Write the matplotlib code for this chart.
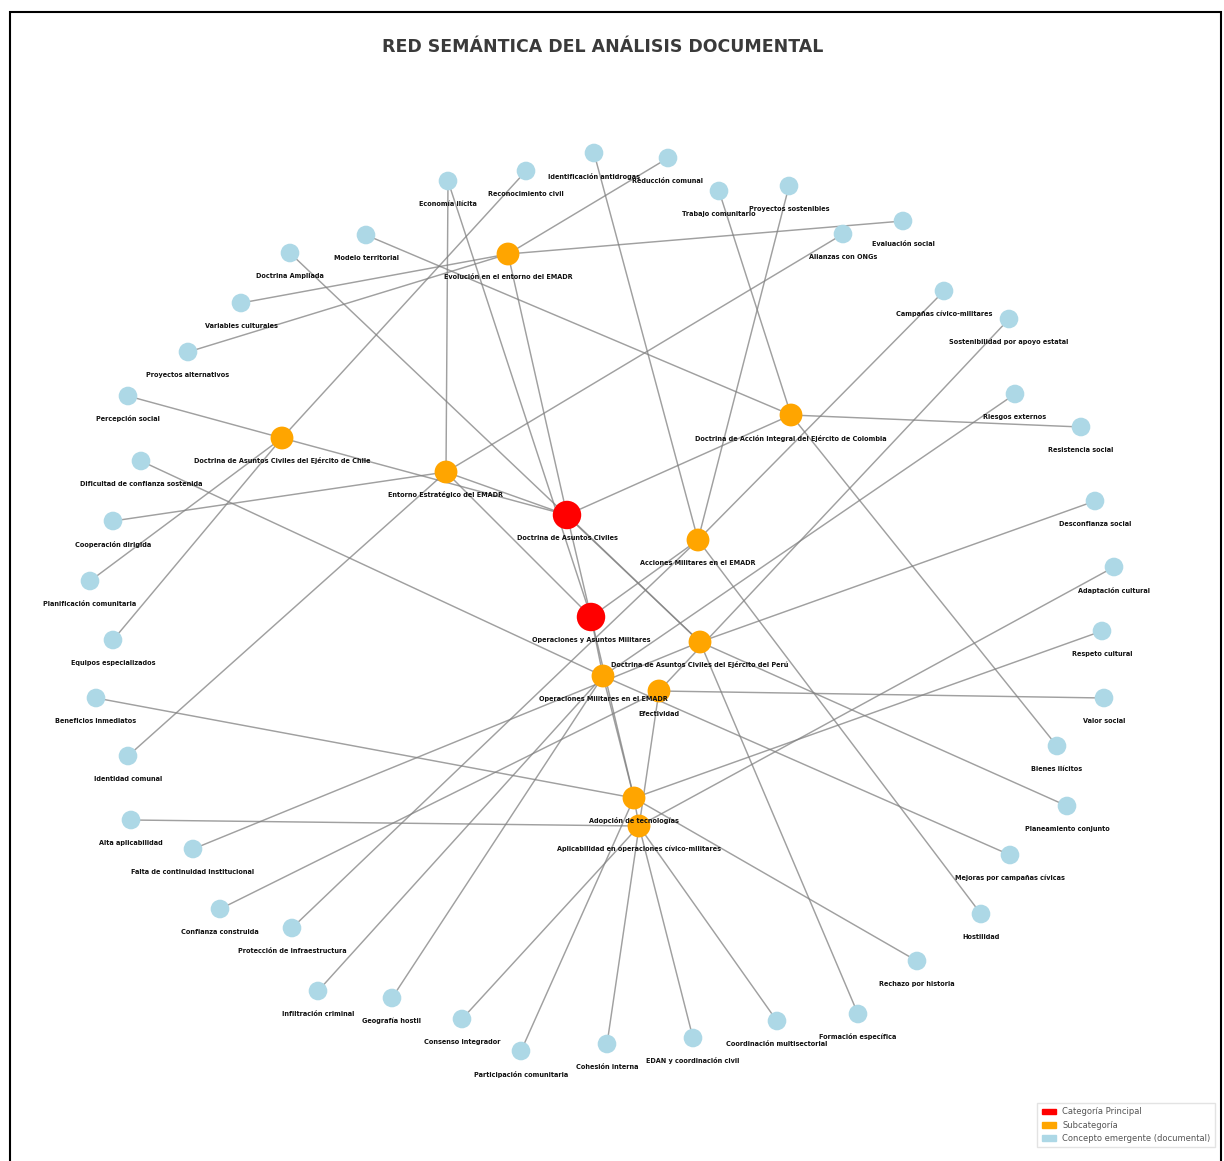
import matplotlib
matplotlib.use("Agg")
import matplotlib.pyplot as plt
from matplotlib.patches import Patch, Rectangle

# ---------------- DATA ----------------
title = "RED SEMÁNTICA DEL ANÁLISIS DOCUMENTAL"

main_nodes = ["Doctrina de Asuntos Civiles", "Operaciones y Asuntos Militares"]

sub_nodes = [
    "Evolución en el entorno del EMADR",
    "Doctrina de Asuntos Civiles del Ejército de Chile",
    "Entorno Estratégico del EMADR",
    "Doctrina de Acción Integral del Ejército de Colombia",
    "Acciones Militares en el EMADR",
    "Doctrina de Asuntos Civiles del Ejército del Perú",
    "Operaciones Militares en el EMADR",
    "Efectividad",
    "Adopción de tecnologías",
    "Aplicabilidad en operaciones cívico-militares",
]

concept_nodes = [
    "Economía ilícita", "Reconocimiento civil", "Identificación antidrogas",
    "Reducción comunal", "Trabajo comunitario", "Proyectos sostenibles",
    "Evaluación social", "Alianzas con ONGs", "Modelo territorial",
    "Doctrina Ampliada", "Variables culturales", "Proyectos alternativos",
    "Percepción social", "Dificultad de confianza sostenida",
    "Cooperación dirigida", "Planificación comunitaria",
    "Equipos especializados", "Beneficios inmediatos", "Identidad comunal",
    "Alta aplicabilidad", "Falta de continuidad institucional",
    "Confianza construida", "Protección de infraestructura",
    "Infiltración criminal", "Geografía hostil", "Consenso integrador",
    "Participación comunitaria", "Cohesión interna",
    "EDAN y coordinación civil", "Coordinación multisectorial",
    "Formación específica", "Rechazo por historia", "Hostilidad",
    "Mejoras por campañas cívicas", "Planeamiento conjunto",
    "Bienes ilícitos", "Valor social", "Respeto cultural",
    "Adaptación cultural", "Desconfianza social", "Resistencia social",
    "Riesgos externos", "Sostenibilidad por apoyo estatal",
    "Campañas cívico-militares",
]

# layout (graph coordinates, y grows downward)
layout = {
    "Doctrina de Asuntos Civiles": (567, 515),
    "Operaciones y Asuntos Militares": (591, 617),
    "Evolución en el entorno del EMADR": (508, 254),
    "Doctrina de Asuntos Civiles del Ejército de Chile": (282, 438),
    "Entorno Estratégico del EMADR": (446, 472),
    "Doctrina de Acción Integral del Ejército de Colombia": (791, 415),
    "Acciones Militares en el EMADR": (698, 540),
    "Doctrina de Asuntos Civiles del Ejército del Perú": (700, 642),
    "Operaciones Militares en el EMADR": (603, 676),
    "Efectividad": (659, 691),
    "Adopción de tecnologías": (634, 798),
    "Aplicabilidad en operaciones cívico-militares": (639, 826),
    "Economía ilícita": (448, 181),
    "Reconocimiento civil": (526, 171),
    "Identificación antidrogas": (594, 153),
    "Reducción comunal": (668, 158),
    "Trabajo comunitario": (719, 191),
    "Proyectos sostenibles": (789, 186),
    "Evaluación social": (903, 221),
    "Alianzas con ONGs": (843, 234),
    "Modelo territorial": (366, 235),
    "Doctrina Ampliada": (290, 253),
    "Variables culturales": (241, 303),
    "Proyectos alternativos": (188, 352),
    "Percepción social": (128, 396),
    "Dificultad de confianza sostenida": (141, 461),
    "Cooperación dirigida": (113, 521),
    "Planificación comunitaria": (90, 581),
    "Equipos especializados": (113, 640),
    "Beneficios inmediatos": (96, 698),
    "Identidad comunal": (128, 756),
    "Alta aplicabilidad": (131, 820),
    "Falta de continuidad institucional": (193, 849),
    "Confianza construida": (220, 909),
    "Protección de infraestructura": (292, 928),
    "Infiltración criminal": (318, 991),
    "Geografía hostil": (392, 998),
    "Consenso integrador": (462, 1019),
    "Participación comunitaria": (521, 1051),
    "Cohesión interna": (607, 1044),
    "EDAN y coordinación civil": (693, 1038),
    "Coordinación multisectorial": (777, 1021),
    "Formación específica": (858, 1014),
    "Rechazo por historia": (917, 961),
    "Hostilidad": (981, 914),
    "Mejoras por campañas cívicas": (1010, 855),
    "Planeamiento conjunto": (1067, 806),
    "Bienes ilícitos": (1057, 746),
    "Valor social": (1104, 698),
    "Respeto cultural": (1102, 631),
    "Adaptación cultural": (1114, 567),
    "Desconfianza social": (1095, 501),
    "Resistencia social": (1081, 427),
    "Riesgos externos": (1015, 394),
    "Sostenibilidad por apoyo estatal": (1009, 319),
    "Campañas cívico-militares": (944, 291),
}

R1, R2 = main_nodes
O1, O2, O3, O4, O5, O6, O7, O8, O9, O10 = sub_nodes

edges = [
    ("Economía ilícita", O3), ("Economía ilícita", R2),
    ("Reconocimiento civil", O2), ("Identificación antidrogas", O5),
    ("Reducción comunal", O1), ("Trabajo comunitario", O4),
    ("Proyectos sostenibles", O5), ("Evaluación social", O1),
    ("Alianzas con ONGs", O3), ("Modelo territorial", O4),
    ("Doctrina Ampliada", O6), ("Variables culturales", O1),
    ("Proyectos alternativos", O1), ("Percepción social", O2),
    ("Dificultad de confianza sostenida", O7), ("Cooperación dirigida", O3),
    ("Planificación comunitaria", O2), ("Equipos especializados", O2),
    ("Beneficios inmediatos", O9), ("Identidad comunal", O3),
    ("Alta aplicabilidad", O10), ("Falta de continuidad institucional", O6),
    ("Confianza construida", O8), ("Protección de infraestructura", O5),
    ("Infiltración criminal", O7), ("Geografía hostil", O7),
    ("Consenso integrador", O10), ("Participación comunitaria", O9),
    ("Cohesión interna", O8), ("EDAN y coordinación civil", O10),
    ("Coordinación multisectorial", O10), ("Formación específica", O6),
    ("Rechazo por historia", O9), ("Hostilidad", O5),
    ("Mejoras por campañas cívicas", O7), ("Planeamiento conjunto", O6),
    ("Bienes ilícitos", O4), ("Valor social", O8),
    ("Respeto cultural", O9), ("Adaptación cultural", O10),
    ("Desconfianza social", O6), ("Resistencia social", O4),
    ("Riesgos externos", O7), ("Sostenibilidad por apoyo estatal", O8),
    ("Campañas cívico-militares", O5),
    (O1, R1), (R1, R2), (R1, O3), (R1, O4), (R1, O6), (O2, R1),
    (O3, R2), (O5, R2), (R2, O7), (R2, O9), (O7, O9), (O9, O10),
]

legend_labels = ["Categoría Principal", "Subcategoría", "Concepto emergente (documental)"]

# ---------------- PLOT ----------------
W, H = 1224, 1161
fig = plt.figure(figsize=(W / 100, H / 100), dpi=100)
ax = fig.add_axes([0, 0, 1, 1])
ax.set_xlim(0, W)
ax.set_ylim(H, 0)
ax.axis("off")

for a, b in edges:
    (x1, y1), (x2, y2) = layout[a], layout[b]
    ax.plot([x1, x2], [y1, y2], color="#808080", lw=1.05, alpha=0.75, zorder=1)

groups = [
    (concept_nodes, "#add8e6", 180),
    (sub_nodes, "#ffa500", 270),
    (main_nodes, "#ff0000", 420),
]
for names, col, size in groups:
    xs = [layout[n][0] for n in names]
    ys = [layout[n][1] for n in names]
    ax.scatter(xs, ys, s=size, c=col, edgecolors="none", zorder=3)

for names, col, size in groups:
    for n in names:
        x, y = layout[n]
        ax.text(x, y + 23, n, fontsize=4.7, fontweight="bold", color="#111111",
                ha="center", va="center", zorder=4)

fig.text(603 / W, 1 - 47 / H, title, fontsize=12.5, fontweight="bold",
         color="#3a3a3a", ha="center", va="center")

handles = [Patch(color="#ff0000"), Patch(color="#ffa500"), Patch(color="#add8e6")]
fig.legend(handles, legend_labels, loc="lower right",
           bbox_to_anchor=(1219 / W, 10 / H), fontsize=6, frameon=True,
           handlelength=1.7, handleheight=0.7, labelcolor="#555555",
           edgecolor="#dddddd", fancybox=False, borderpad=0.5)

fig.patches.append(Rectangle((10 / W, -0.01), (1221 - 10) / W, 1.01 - 12 / H,
                             transform=fig.transFigure, fill=False,
                             edgecolor="black", lw=1.5, zorder=10))

fig.savefig("out.png", dpi=100)
